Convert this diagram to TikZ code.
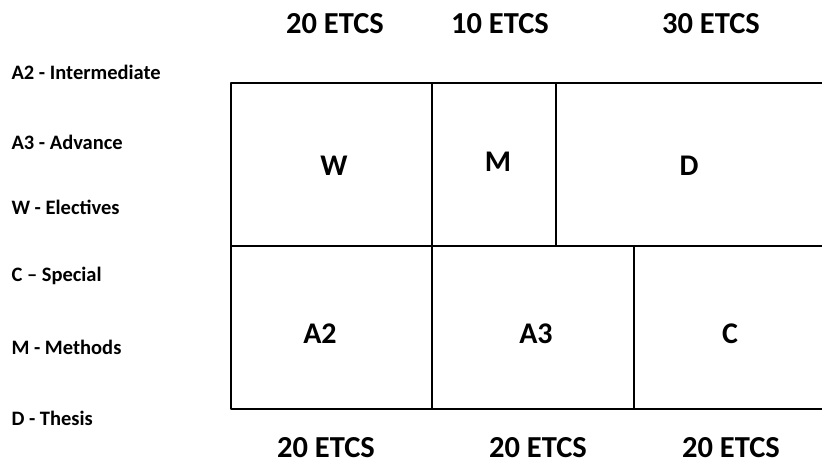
\documentclass[tikz,border=0pt]{standalone}
\usepackage{fontspec}
\setmainfont{Carlito}
\begin{document}
\begin{tikzpicture}[x=1pt, y=-1pt, line join = round, line cap = rect]
\tikzset{
  credits/.style = {font=\fontsize{30.5}{32}\selectfont\bfseries},
  cell/.style    = {font=\fontsize{30}{32}\selectfont\bfseries},
  legend/.style  = {font=\fontsize{20.5}{22}\selectfont\bfseries, anchor=west}
}
\useasboundingbox (0,0) rectangle (822,464);

\coordinate (TL) at (231, 83);
\coordinate (ML) at (231,246);
\coordinate (BL) at (231,409);
\coordinate (TR) at (822, 83);
\coordinate (MR) at (822,246);
\coordinate (BR) at (822,409);

\coordinate (WM)  at (432, 83);
\coordinate (WMb) at (432,246);
\coordinate (MD)  at (556, 83);
\coordinate (MDb) at (556,246);
\coordinate (AA)  at (432,409);
\coordinate (AC)  at (634,246);
\coordinate (ACb) at (634,409);

\draw[line width=2.2pt] (TR) -- (TL) -- (BL) -- (BR);
\draw[line width=2.2pt] (ML) -- (MR);
\draw[line width=2.2pt] (WM) -- (WMb);
\draw[line width=2.2pt] (MD) -- (MDb);
\draw[line width=2.2pt] (WMb) -- (AA);
\draw[line width=2.2pt] (AC) -- (ACb);

\node[credits] (topW) at (335, 24) {20 ETCS};
\node[credits] (topM) at (500, 24) {10 ETCS};
\node[credits] (topD) at (711, 24) {30 ETCS};
\node[credits] (botA2) at (326,448) {20 ETCS};
\node[credits] (botA3) at (538,448) {20 ETCS};
\node[credits] (botC)  at (731,448) {20 ETCS};

\node[cell] (W)  at (334,166) {W};
\node[cell] (M)  at (498,162) {M};
\node[cell] (D)  at (689,166) {D};
\node[cell] (A2) at (320,334) {A2};
\node[cell] (A3) at (536,334) {A3};
\node[cell] (C)  at (730,334) {C};

\foreach \name/\ypos/\txt in {keyA2/72/{A2 - Intermediate}, keyA3/142/{A3 - Advance},
    keyW/207/{W - Electives}, keyC/276/{C -- Special},
    keyM/347/{M - Methods}, keyD/418/{D - Thesis}}
    \node[legend] (\name) at (8,\ypos) {\txt};

\end{tikzpicture}
\end{document}
